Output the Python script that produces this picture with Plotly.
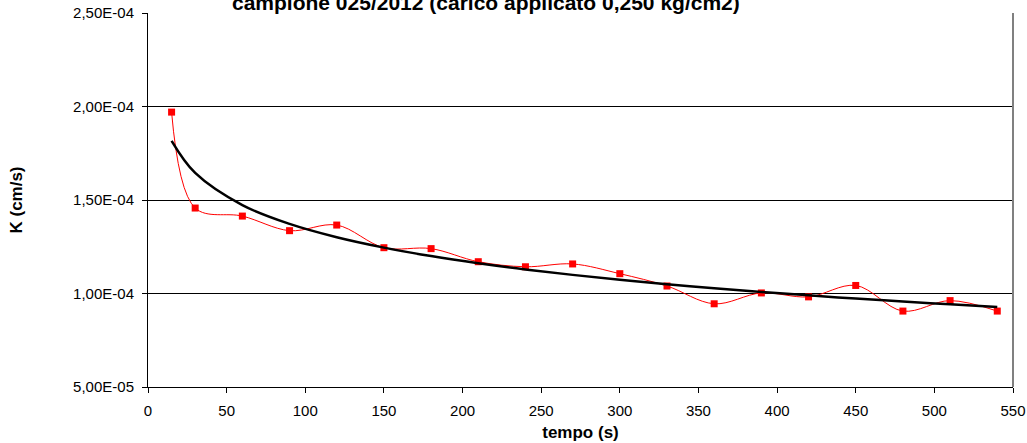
import numpy as np
import plotly.graph_objects as go

# Data
tempo = [15, 30, 60, 90, 120, 150, 180, 210, 240, 270, 300, 330, 360, 390, 420, 450, 480, 510, 540]
k_vals = [1.97e-4, 1.457e-4, 1.414e-4, 1.336e-4, 1.366e-4, 1.245e-4, 1.240e-4, 1.170e-4,
          1.143e-4, 1.158e-4, 1.106e-4, 1.040e-4, 0.945e-4, 1.003e-4, 0.982e-4, 1.043e-4,
          0.906e-4, 0.962e-4, 0.906e-4]

y_tickvals = [5e-5, 1e-4, 1.5e-4, 2e-4, 2.5e-4]
y_ticktext = ["5,00E-05", "1,00E-04", "1,50E-04", "2,00E-04", "2,50E-04"]
x_tickvals = [0, 50, 100, 150, 200, 250, 300, 350, 400, 450, 500, 550]

title_text = "campione 025/2012 (carico applicato 0,250 kg/cm2)"

# Logarithmic trendline (least squares on ln(t)), as in the original spreadsheet chart
b, a = np.polyfit(np.log(tempo), k_vals, 1)
trend = [a + b * np.log(t) for t in tempo]

FONT = "Liberation Sans, Arial, sans-serif"

fig = go.Figure()
fig.add_trace(go.Scatter(
    x=tempo, y=k_vals, mode="lines+markers",
    line=dict(color="#FF0000", width=1, shape="spline", smoothing=1.0),
    marker=dict(symbol="square", size=7, color="#FF0000"),
    showlegend=False, hoverinfo="skip",
))
fig.add_trace(go.Scatter(
    x=tempo, y=trend, mode="lines",
    line=dict(color="#000000", width=2.5, shape="spline", smoothing=1.0),
    showlegend=False, hoverinfo="skip",
))

fig.update_layout(
    width=1027, height=443,
    margin=dict(l=148, r=14, t=13, b=56),
    paper_bgcolor="white", plot_bgcolor="white",
    font=dict(family=FONT, color="black"),
    xaxis=dict(
        range=[0, 550], tickvals=x_tickvals, automargin=False,
        showline=True, linecolor="black", linewidth=1,
        ticks="outside", ticklen=5, tickcolor="black",
        showgrid=False, zeroline=False,
        tickfont=dict(size=15, family=FONT), ticklabelstandoff=5,
        title=dict(text="<b>tempo (s)</b>", font=dict(size=17, family=FONT), standoff=8),
    ),
    yaxis=dict(
        range=[5e-5, 2.5e-4], tickvals=y_tickvals, ticktext=y_ticktext, automargin=False,
        showline=True, linecolor="black", linewidth=1,
        ticks="outside", ticklen=5, tickcolor="black",
        showgrid=True, gridcolor="black", gridwidth=1, zeroline=False,
        tickfont=dict(size=15, family=FONT), ticklabelstandoff=5,
        title=dict(text="<b>K (cm/s)</b>", font=dict(size=17, family=FONT), standoff=46),
    ),
    annotations=[dict(
        text="<b>" + title_text + "</b>", xref="paper", yref="paper",
        x=0.391, y=1, xanchor="center", yanchor="bottom", yshift=-3,
        showarrow=False, font=dict(size=21, family=FONT, color="black"),
    )],
    shapes=[dict(type="line", xref="paper", yref="paper", x0=1, x1=1, y0=0, y1=1,
                 line=dict(color="#808080", width=2))],
)

fig.write_html("out.html")
